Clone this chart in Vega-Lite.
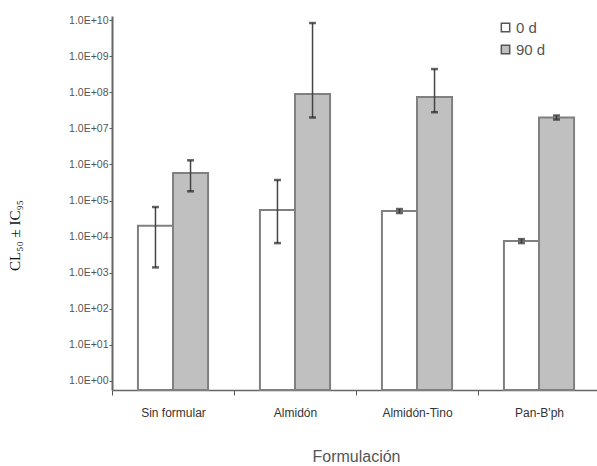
{
  "$schema": "https://vega.github.io/schema/vega-lite/v6.json",
  "width": 488,
  "height": 374,
  "autosize": {"type": "none"},
  "padding": {"left": 112, "top": 16, "right": 0, "bottom": 76},
  "background": "white",
  "config": {
    "view": {"stroke": null},
    "font": "Liberation Sans"
  },
  "data": {
    "values": [
      {"formulacion": "Sin formular", "tiempo": "0 d", "valor": 20000, "inferior": 1400, "superior": 66000},
      {"formulacion": "Sin formular", "tiempo": "90 d", "valor": 580000, "inferior": 180000, "superior": 1300000},
      {"formulacion": "Almidón", "tiempo": "0 d", "valor": 55000, "inferior": 6600, "superior": 370000},
      {"formulacion": "Almidón", "tiempo": "90 d", "valor": 89000000, "inferior": 20000000, "superior": 8300000000},
      {"formulacion": "Almidón-Tino", "tiempo": "0 d", "valor": 51000, "inferior": 45000, "superior": 58000},
      {"formulacion": "Almidón-Tino", "tiempo": "90 d", "valor": 74000000, "inferior": 28000000, "superior": 440000000},
      {"formulacion": "Pan-B'ph", "tiempo": "0 d", "valor": 7500, "inferior": 6600, "superior": 8500},
      {"formulacion": "Pan-B'ph", "tiempo": "90 d", "valor": 20000000, "inferior": 17600000, "superior": 22700000}
    ]
  },
  "encoding": {
    "x": {
      "field": "formulacion",
      "type": "nominal",
      "sort": ["Sin formular", "Almidón", "Almidón-Tino", "Pan-B'ph"],
      "scale": {"paddingInner": 0, "paddingOuter": 0},
      "axis": {
        "title": "Formulación",
        "labelAngle": 0,
        "labelFont": "Liberation Sans",
        "labelFontSize": 12,
        "labelColor": "#333",
        "labelPadding": 12,
        "tickBand": "extent",
        "tickSize": 5,
        "tickColor": "#555",
        "domainColor": "#666",
        "domainWidth": 1.5,
        "titleFont": "Liberation Sans",
        "titleFontSize": 16,
        "titleFontWeight": "normal",
        "titleColor": "#555",
        "titleBaseline": "middle",
        "titleY": 66
      }
    },
    "xOffset": {
      "field": "tiempo",
      "type": "nominal",
      "sort": ["0 d", "90 d"],
      "scale": {"paddingInner": 0, "paddingOuter": 0.74}
    }
  },
  "layer": [
    {
      "mark": {"type": "bar", "stroke": "#808080", "strokeWidth": 2},
      "encoding": {
        "y": {
          "field": "valor",
          "type": "quantitative",
          "stack": null,
          "scale": {"type": "log", "domain": [0.56, 13000000000], "nice": false},
          "axis": {
            "title": "CL₅₀ ± IC₉₅",
            "titleFont": "Liberation Serif",
            "titleFontSize": 15,
            "titleFontWeight": "normal",
            "titleColor": "#111",
            "titleX": -90,
            "titleY": 219,
            "values": [1, 10, 100, 1000, 10000, 100000, 1000000, 10000000, 100000000, 1000000000, 10000000000],
            "labelExpr": "'1.0E+' + (datum.value >= 5e9 ? '10' : '0' + round(log(datum.value)/LN10))",
            "labelFont": "Liberation Sans",
            "labelFontSize": 10.5,
            "labelColor": "#555",
            "labelPadding": 1,
            "tickSize": 3,
            "tickColor": "#555",
            "domainColor": "#666",
            "domainWidth": 2,
            "grid": false
          }
        },
        "fill": {
          "field": "tiempo",
          "type": "nominal",
          "sort": ["0 d", "90 d"],
          "scale": {"range": ["#ffffff", "#c0c0c0"]},
          "legend": {
            "title": null,
            "orient": "none",
            "legendX": 386,
            "legendY": 4,
            "symbolType": "square",
            "symbolSize": 70,
            "symbolStrokeColor": "#555",
            "symbolStrokeWidth": 1.5,
            "labelFont": "Liberation Sans",
            "labelFontSize": 15,
            "labelColor": "#555",
            "rowPadding": 6,
            "labelOffset": 3
          }
        }
      }
    },
    {
      "mark": {"type": "rule", "color": "#444", "strokeWidth": 1.5},
      "encoding": {
        "y": {"field": "inferior", "type": "quantitative"},
        "y2": {"field": "superior"}
      }
    },
    {
      "mark": {"type": "tick", "color": "#222", "thickness": 2.5, "size": 7},
      "encoding": {
        "y": {"field": "inferior", "type": "quantitative"}
      }
    },
    {
      "mark": {"type": "tick", "color": "#222", "thickness": 2.5, "size": 7},
      "encoding": {
        "y": {"field": "superior", "type": "quantitative"}
      }
    }
  ]
}
